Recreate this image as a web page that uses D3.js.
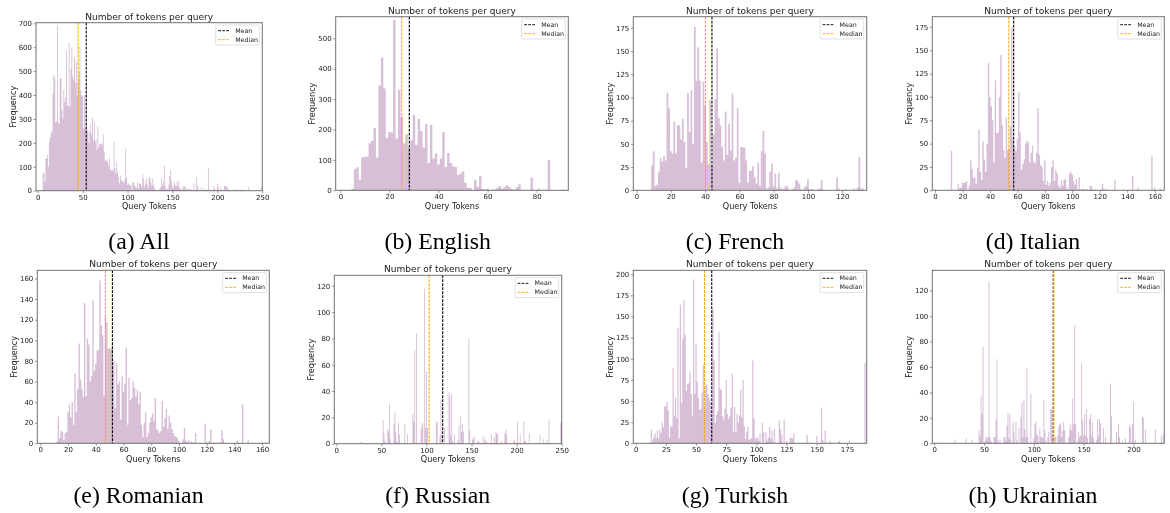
<!DOCTYPE html>
<html><head><meta charset="utf-8">
<script src="https://cdn.jsdelivr.net/npm/d3@7"></script>
<style>
html,body{margin:0;padding:0;background:#fff;overflow:hidden}
svg{display:block}
</style></head><body>
<svg id="c" width="1170" height="513"></svg>
<script>
// ---- Data: frequency per token count ----
const startAll = 6;
const countsAll = [70,78,35,135,135,150,100,205,225,250,240,405,485,470,285,290,690,285,280,470,470,340,300,420,370,390,585,355,355,620,350,510,600,480,465,560,450,540,400,455,500,605,420,400,395,260,400,260,450,250,255,200,245,280,235,305,210,285,205,215,170,270,180,195,195,200,190,235,165,125,125,130,120,100,135,85,85,90,80,205,95,70,120,75,55,30,65,45,40,40,30,45,175,55,25,30,25,20,25,5,35,35,20,15,10,35,10,30,30,25,15,70,50,15,30,50,25,10,55,55,35,20,50,25,10,5,2,3,0,3,10,15,55,20,40,105,20,5,10,5,25,60,85,40,20,10,35,25,20,40,20,40,10,8,5,5,15,20,15,5,10,5,8,5,5,5,3,3,30,5,3,55,20,3,3,3,15,3,3,10,3,3,5,3,95,5,3,3,3,3,20,5,3,3,30,15,2,0,15,3,3,3,20,20,15,15,3,3,5,0,3,0,0,0,8,0,3,5,0,5,3,5,3,0,0,0,0,0,0,15,0,0,0,0,0,0,0,0,0,0,0,0,0,15];

const startEnglish = 5;
const countsEnglish = [5,70,76,35,108,110,110,155,162,205,108,345,437,335,172,192,190,560,170,330,240,155,185,140,165,248,150,235,195,140,218,90,215,105,122,85,105,192,77,123,90,78,77,50,55,62,25,8,8,0,35,12,47,5,3,6,1,2,3,8,14,5,10,17,10,4,2,10,20,0,0,0,0,42,0,0,5,0,0,0,100,0,0,0,0,0,3];

const startFrench = 9;
const countsFrench = [27,42,5,6,20,35,31,37,32,105,89,42,39,74,40,70,70,55,77,52,24,105,63,108,50,176,118,154,118,30,117,91,52,28,97,27,60,98,153,78,70,47,32,85,38,72,43,104,32,35,89,8,47,46,46,32,8,21,21,26,14,7,30,5,42,64,40,2,3,20,29,4,18,2,19,3,1,2,5,4,1,0,1,3,11,10,7,1,0,3,5,12,1,1,1,0,0,1,2,11,0,0,0,0,0,0,0,0,14,2,0,0,0,1,0,0,0,0,2,0,3,36,2,2];

const startItalian = 12;
const countsItalian = [42,0,0,0,0,7,2,3,8,8,8,10,0,5,32,23,13,14,7,24,65,20,11,52,33,20,50,137,100,90,75,29,118,61,62,100,145,70,43,35,78,43,45,68,175,55,47,42,55,105,62,22,28,33,50,53,51,30,40,48,30,29,40,88,38,27,25,10,32,6,10,5,8,25,32,10,22,18,5,3,11,5,11,12,3,1,18,20,17,10,6,12,1,14,0,2,1,1,1,1,0,5,4,1,0,1,0,0,0,0,7,2,0,1,0,0,0,0,0,11,0,0,0,0,0,0,0,0,0,0,0,0,15,0,0,0,3,0,0,0,0,0,0,0,0,0,37,0,3,0,0,0,2];

const startRomanian = 12;
const countsRomanian = [2,26,5,12,11,3,10,11,30,38,25,40,18,68,30,53,97,62,53,45,136,46,102,96,60,65,139,70,77,90,90,158,115,105,46,123,117,92,92,92,95,80,34,78,57,60,23,65,50,58,93,18,64,42,44,60,54,45,52,38,50,18,6,20,30,6,10,20,25,29,22,44,14,12,10,12,41,16,24,33,14,27,20,14,10,7,6,5,2,0,0,4,15,3,1,3,0,2,1,0,10,0,0,0,0,0,0,19,0,1,2,14,0,1,0,0,0,0,1,13,4,0,0,0,0,0,0,0,0,0,3,1,0,0,38,0,0,0,3,0,0,0,0,0,0,0,0,0,1,0,0,1];

const tokensRussian = [28,52,53,54,57,58,59,60,64,65,66,67,69,70,76,79,85,86,87,89,94,95,96,98,99,100,101,111,112,115,116,117,120,125,126,127,128,129,131,135,136,138,139,140,141,147,148,151,152,153,157,158,163,165,166,167,172,175,177,178,179,183,187,188,189,197,198,201,204,208,209,210,214,226,230,234,236,249,250];
const countsRussian = [2,18,8,2,11,9,30,4,15,24,9,2,16,7,15,7,23,17,71,84,11,14,16,118,12,55,12,16,17,6,33,7,12,39,36,6,38,2,7,3,14,21,9,15,9,80,10,4,3,6,2,2,6,4,2,1,7,5,9,8,7,2,8,11,7,3,2,17,7,17,2,2,8,7,4,3,18,16,16];

const startTurkish = 13;
const countsTurkish = [16,3,7,12,6,15,6,16,12,25,19,43,44,49,39,7,20,20,89,33,54,30,137,6,164,48,123,170,128,62,70,71,85,58,33,194,58,118,73,54,40,40,60,93,43,68,70,58,53,48,23,159,98,24,34,38,131,64,63,32,28,41,75,35,29,33,42,82,14,43,13,35,25,33,63,31,75,20,5,14,20,4,5,6,98,30,6,6,7,3,12,0,24,13,0,13,3,7,20,6,15,2,17,0,0,0,27,17,10,0,28,0,3,0,0,7,6,6,12,0,0,0,0,0,0,0,0,0,0,10,0,0,0,0,0,0,0,9,0,0,0,42,4,0,15,0,0,0,3,0,0,0,0,0,0,2,3,0,0,0,0,0,0,0,3,0,0,0,0,0,0,0,0,0,0,0,0,95];

const tokensUkrainian = [21,32,38,45,46,47,48,49,51,52,53,54,55,56,57,60,61,62,63,64,66,70,71,72,73,74,75,76,77,79,80,82,83,85,87,88,89,90,91,92,93,94,97,100,101,102,103,104,106,107,108,109,110,111,112,114,115,117,118,119,121,122,124,125,126,127,128,129,130,131,135,136,137,138,139,140,141,142,144,145,146,147,148,149,150,151,152,153,154,156,157,158,159,160,163,164,165,166,167,170,172,177,178,183,185,186,189,192,196,197,199,200,202,209,210,212,222,228,230];
const countsUkrainian = [3,4,3,10,6,37,23,76,2,5,4,5,127,5,2,5,5,19,66,2,3,5,5,2,14,24,4,23,2,17,9,17,2,12,21,32,5,34,11,5,59,5,39,4,15,17,7,6,12,5,5,4,34,10,2,5,9,27,27,5,5,5,6,13,15,16,5,10,17,10,5,11,15,10,35,15,93,15,2,9,5,6,63,18,6,23,6,27,4,19,23,6,16,4,3,19,6,19,16,12,5,47,21,9,15,5,2,4,14,13,15,33,3,21,20,11,11,6,7];

const xTicksAll = [0,50,100,150,200,250];
const xTicksEnglish = [0,20,40,60,80];
const xTicksFrench = [0,20,40,60,80,100,120];
const xTicksItalian = [0,20,40,60,80,100,120,140,160];
const xTicksRomanian = [0,20,40,60,80,100,120,140,160];
const xTicksRussian = [0,50,100,150,200,250];
const xTicksTurkish = [0,25,50,75,100,125,150,175];
const xTicksUkrainian = [0,50,100,150,200];

const yTicksAll = [0,100,200,300,400,500,600,700];
const yTicksEnglish = [0,100,200,300,400,500];
const yTicksFrench = [0,25,50,75,100,125,150,175];
const yTicksItalian = [0,25,50,75,100,125,150,175];
const yTicksRomanian = [0,20,40,60,80,100,120,140,160];
const yTicksRussian = [0,20,40,60,80,100,120];
const yTicksTurkish = [0,25,50,75,100,125,150,175,200];
const yTicksUkrainian = [0,20,40,60,80,100,120];

const meanValues   = [54, 28.1, 44, 57.3, 52, 118, 63, 119.5];
const medianValues = [45, 25, 40.2, 53.8, 47, 103, 57, 120];
const captions = ["(a) All","(b) English","(c) French","(d) Italian","(e) Romanian","(f) Russian","(g) Turkish","(h) Ukrainian"];

const range0 = s => c => d3.range(s, s + c.length);
const tokenLists = [
  range0(startAll)(countsAll), range0(startEnglish)(countsEnglish), range0(startFrench)(countsFrench),
  range0(startItalian)(countsItalian), range0(startRomanian)(countsRomanian), tokensRussian,
  range0(startTurkish)(countsTurkish), tokensUkrainian];
const countLists = [countsAll,countsEnglish,countsFrench,countsItalian,countsRomanian,countsRussian,countsTurkish,countsUkrainian];
const xTickLists = [xTicksAll,xTicksEnglish,xTicksFrench,xTicksItalian,xTicksRomanian,xTicksRussian,xTicksTurkish,xTicksUkrainian];
const yTickLists = [yTicksAll,yTicksEnglish,yTicksFrench,yTicksItalian,yTicksRomanian,yTicksRussian,yTicksTurkish,yTicksUkrainian];

// ---- Layout (pixels and axis extents) ----
const frames = [
 {l:36,   r:262.3, t:22.7,  b:190.7, x0:-1.9, x1:250,   y1:702.5, cap:139,   capY:249},
 {l:335.7,r:568.3, t:16.7,  b:190.3, x0:-1.9, x1:92.9,  y1:571,   cap:437.7, capY:249},
 {l:633.3,r:866.7, t:16.7,  b:190.3, x0:-1.9, x1:134.3, y1:187,   cap:735,   capY:249},
 {l:932.3,r:1164.3,t:16.7,  b:190.3, x0:-1.97,x1:167,   y1:186,   cap:1033,  capY:249},
 {l:37.3, r:269.3, t:270.3, b:443.3, x0:-2.2, x1:165.2, y1:168,   cap:138.5, capY:503},
 {l:334.3,r:561.7, t:275.3, b:443.7, x0:-2.2, x1:250,   y1:128,   cap:437.7, capY:503},
 {l:633.3,r:866.7, t:270.3, b:443.3, x0:-2,   x1:191.4, y1:204.7, cap:735,   capY:503},
 {l:932.3,r:1164.3,t:270.3, b:443.3, x0:-2,   x1:231,   y1:136,   cap:1033,  capY:503}];

const svg = d3.select("#c");
const defs = svg.append("defs");
defs.append("filter").attr("id","soft").attr("x","-5%").attr("y","-5%").attr("width","110%").attr("height","110%")
  .append("feGaussianBlur").attr("stdDeviation",0.5);
const FONT = "'DejaVu Sans',sans-serif";
const INK = "#1c1c1c", EDGE = "#707070";
const chartLayer = svg.append("g").attr("filter","url(#soft)");

frames.forEach((f,i)=>{
  const x = d3.scaleLinear().domain([f.x0,f.x1]).range([f.l,f.r]);
  const y = d3.scaleLinear().domain([0,f.y1]).range([f.b,f.t]);
  const g = chartLayer.append("g");
  const tokens = tokenLists[i], counts = countLists[i];

  // One seamless outline per panel, so touching bars do not show anti-aliasing seams.
  const lookup = new Map(tokens.map((t,k)=>[t,counts[k]]));
  const steps = d3.range(d3.min(tokens), d3.max(tokens)+1).flatMap(t=>{
    const c = lookup.get(t) || 0;
    return [{p:t-0.5,c},{p:t+0.5,c}];
  });
  g.append("path").attr("fill","#d8bfd8")
    .attr("d", d3.area().x(d=>x(d.p)).y0(y(0)).y1(d=>y(d.c))(steps));

  const ax = g.append("g").attr("transform",`translate(0,${f.b})`)
    .call(d3.axisBottom(x).tickValues(xTickLists[i]).tickSize(2.5).tickPadding(1.5).tickFormat(d3.format("d")));
  const ay = g.append("g").attr("transform",`translate(${f.l},0)`)
    .call(d3.axisLeft(y).tickValues(yTickLists[i]).tickSize(2.5).tickPadding(1.5).tickFormat(d3.format("d")));
  [ax,ay].forEach(a=>{
    a.select(".domain").remove();
    a.selectAll("line").attr("stroke",EDGE).attr("stroke-width",0.7);
    a.selectAll("text").attr("font-family",FONT).attr("font-size",7).attr("fill",INK);
  });

  [[meanValues[i],"#000"],[medianValues[i],"#ffa500"]].forEach(([v,col])=>{
    g.append("line").attr("x1",x(v)).attr("x2",x(v)).attr("y1",f.t).attr("y2",f.b)
      .attr("stroke",col).attr("stroke-width",1.1).attr("stroke-dasharray","2.8,1.2");
  });

  g.append("rect").attr("x",f.l).attr("y",f.t).attr("width",f.r-f.l).attr("height",f.b-f.t)
    .attr("fill","none").attr("stroke",EDGE).attr("stroke-width",1);

  g.append("text").attr("x",(f.l+f.r)/2).attr("y",f.t-3.2).attr("text-anchor","middle")
    .attr("font-family",FONT).attr("font-size",9.07).attr("fill",INK).text("Number of tokens per query");
  g.append("text").attr("x",(f.l+f.r)/2).attr("y",f.b+18.3).attr("text-anchor","middle")
    .attr("font-family",FONT).attr("font-size",8.1).attr("fill",INK).text("Query Tokens");
  g.append("text").attr("transform",`translate(${f.l-20.5},${(f.t+f.b)/2}) rotate(-90)`).attr("text-anchor","middle")
    .attr("font-family",FONT).attr("font-size",8.1).attr("fill",INK).text("Frequency");

  // legend
  const lw=43.6, lh=20, lx=f.r-lw-3, ly=f.t+2.3;
  g.append("rect").attr("x",lx).attr("y",ly).attr("width",lw).attr("height",lh).attr("rx",1)
    .attr("fill","#fff").attr("fill-opacity",0.85).attr("stroke","#d4d4d4").attr("stroke-width",0.7);
  [["Mean","#000",5.7],["Median","#ffa500",14.7]].forEach(([t,col,dy])=>{
    g.append("line").attr("x1",lx+2.5).attr("x2",lx+14.5).attr("y1",ly+dy).attr("y2",ly+dy)
      .attr("stroke",col).attr("stroke-width",0.9).attr("stroke-dasharray","2.8,1.2");
    g.append("text").attr("x",lx+19.5).attr("y",ly+dy+2).attr("font-family",FONT).attr("font-size",6.3)
      .attr("fill",INK).text(t);
  });

  svg.append("text").attr("x",f.cap).attr("y",f.capY).attr("text-anchor","middle")
    .attr("font-family","'Liberation Serif',serif").attr("font-size",23.8).attr("fill","#000").text(captions[i]);
});
</script>
</body></html>
